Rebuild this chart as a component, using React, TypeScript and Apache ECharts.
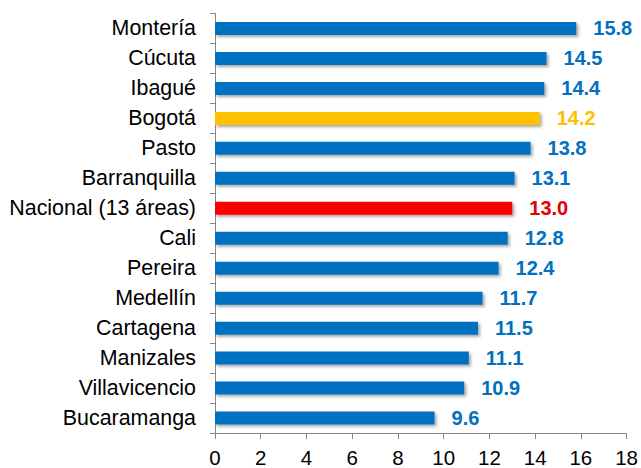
import React, { useEffect, useRef } from "react";
import * as echarts from "echarts";

const categories = [
  "Montería", "Cúcuta", "Ibagué", "Bogotá", "Pasto", "Barranquilla",
  "Nacional (13 áreas)", "Cali", "Pereira", "Medellín", "Cartagena",
  "Manizales", "Villavicencio", "Bucaramanga",
];
const values = [15.8, 14.5, 14.4, 14.2, 13.8, 13.1, 13.0, 12.8, 12.4, 11.7, 11.5, 11.1, 10.9, 9.6];
const barColors: Record<string, string> = { "Bogotá": "#FFC000", "Nacional (13 áreas)": "#FF0000" };
const labelColors: Record<string, string> = { "Bogotá": "#FFC000", "Nacional (13 áreas)": "#E60000" };
const defaultColor = "#0070C0";
const xTicks = { min: 0, max: 18, interval: 2 };

const FONT = "'Liberation Sans', Arial, sans-serif";

export default function App() {
  const ref = useRef<HTMLDivElement>(null);
  useEffect(() => {
    if (!ref.current) return;
    const chart = echarts.init(ref.current, null, { renderer: "svg" });
    chart.setOption({
      animation: false,
      grid: { left: 215, right: 14, top: 13.5, bottom: 34, containLabel: false },
      xAxis: {
        type: "value",
        min: xTicks.min,
        max: xTicks.max,
        interval: xTicks.interval,
        splitLine: { show: false },
        axisLine: { show: true, lineStyle: { color: "#868686", width: 1 } },
        axisTick: { show: true, length: 6, lineStyle: { color: "#868686" } },
        axisLabel: { color: "#000", fontSize: 20.5, fontFamily: FONT, margin: 14 },
      },
      yAxis: {
        type: "category",
        inverse: true,
        data: categories,
        axisLine: { show: true, lineStyle: { color: "#868686", width: 1 } },
        axisTick: { show: true, length: 5, lineStyle: { color: "#868686" } },
        axisLabel: { color: "#000", fontSize: 21.4, fontFamily: FONT, margin: 19 },
      },
      series: [
        {
          type: "bar",
          barWidth: 13,
          data: values.map((v, i) => {
            const c = categories[i];
            return {
              value: v,
              itemStyle: {
                color: barColors[c] || defaultColor,
                shadowColor: "rgba(0,0,0,0.35)",
                shadowBlur: 3,
                shadowOffsetX: 2,
                shadowOffsetY: 2,
              },
              label: { color: labelColors[c] || defaultColor },
            };
          }),
          label: {
            show: true,
            position: "right",
            distance: 17,
            fontSize: 20,
            fontWeight: "bold",
            fontFamily: FONT,
            formatter: (p: any) => Number(p.value).toFixed(1),
          },
        },
      ],
    });
    return () => chart.dispose();
  }, []);
  return <div ref={ref} style={{ width: 641, height: 468, position: "absolute", left: 0, top: 0 }} />;
}
